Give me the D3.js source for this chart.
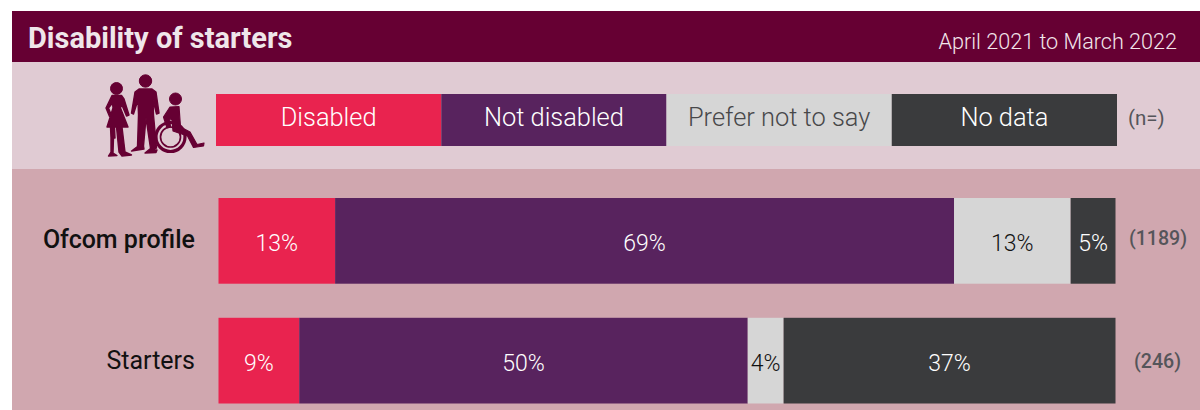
<!DOCTYPE html>
<html>
<head>
<meta charset="utf-8">
<script src="https://cdn.jsdelivr.net/npm/d3@7"></script>
<style>
html,body{margin:0;padding:0;background:#fff;}
svg{display:block;}
text{font-family:"Roboto","Noto Sans",sans-serif;}
</style>
</head>
<body>
<svg id="chart" width="1200" height="410"></svg>
<script>
// Survey breakdown: share of each group by disability status
const categories = ["Disabled", "Not disabled", "Prefer not to say", "No data"];
const groups = ["Ofcom profile", "Starters"];
const ofcomProfile = [13, 69, 13, 5];
const starters = [9, 50, 4, 37];
const respondents = [1189, 246];
const colours = ["#e9234f", "#58235e", "#d6d6d6", "#3a3b3d"];
const legendInk = ["#ffffff", "#ffffff", "#48484a", "#ffffff"];
const valueInk = ["#ffffff", "#ffffff", "#111111", "#ffffff"];
const title = "Disability of starters";
const period = "April 2021 to March 2022";

const svg = d3.select("#chart");

// Page bands
svg.append("rect").attr("x", 12).attr("y", 169).attr("width", 1188).attr("height", 241).attr("fill", "#d0a7af");
svg.append("rect").attr("x", 12).attr("y", 62).attr("width", 1188).attr("height", 107).attr("fill", "#e0cbd3");
svg.append("rect").attr("x", 12).attr("y", 11).attr("width", 1188).attr("height", 51).attr("fill", "#660033");

svg.append("text").attr("x", 28).attr("y", 48).attr("font-size", 29).attr("font-weight", 700)
  .attr("fill", "#efe6ea").text(title);
svg.append("text").attr("x", 1177).attr("y", 49).attr("text-anchor", "end").attr("font-size", 21.6)
  .attr("font-weight", 300).attr("fill", "#f3e6eb").text(period);

// Legend strip: four equal cells
const legendX = d3.scaleBand().domain(categories).range([216, 1117]);
const legend = svg.append("g");
legend.selectAll("rect").data(categories).join("rect")
  .attr("x", d => legendX(d))
  .attr("y", 94)
  .attr("width", legendX.bandwidth())
  .attr("height", 52)
  .attr("fill", (d, i) => colours[i]);
legend.selectAll("text").data(categories).join("text")
  .attr("x", d => legendX(d) + legendX.bandwidth() / 2)
  .attr("y", 126)
  .attr("text-anchor", "middle")
  .attr("font-size", 25.4)
  .attr("font-weight", 300)
  .attr("fill", (d, i) => legendInk[i])
  .text(d => d);
svg.append("text").attr("x", 1128).attr("y", 125).attr("font-size", 20.5).attr("fill", "#55555a").text("(n=)");

// Stacked bars
const rows = [ofcomProfile, starters];
const x = d3.scaleLinear().domain([0, 100]).range([218.5, 1115.5]);
const y = d3.scaleBand().domain(groups).range([198, 403.5]).paddingInner(0.2845);

const stack = d3.stack().keys(d3.range(categories.length)).value((row, k) => row[k]);
const layers = stack(rows);

const bars = svg.append("g");
layers.forEach((layer, k) => {
  const seg = bars.append("g");
  seg.selectAll("rect").data(layer).join("rect")
    .attr("x", d => x(d[0]))
    .attr("y", (d, i) => y(groups[i]))
    .attr("width", d => x(d[1]) - x(d[0]))
    .attr("height", y.bandwidth())
    .attr("fill", colours[k]);
  seg.selectAll("text").data(layer).join("text")
    .attr("x", d => (x(d[0]) + x(d[1])) / 2)
    .attr("y", (d, i) => y(groups[i]) + y.bandwidth() / 2 + 10)
    .attr("text-anchor", "middle")
    .attr("font-size", 23)
    .attr("font-weight", 300)
    .attr("fill", valueInk[k])
    .text(d => `${d[1] - d[0]}%`);
});

// Row names and sample sizes
svg.append("g").selectAll("text").data(groups).join("text")
  .attr("x", 195)
  .attr("y", (d, i) => y(d) + y.bandwidth() / 2 + (i === 0 ? 7.5 : 8.5))
  .attr("text-anchor", "end")
  .attr("font-size", 25)
  .attr("font-weight", (d, i) => i === 0 ? 500 : 400)
  .attr("fill", "#111111")
  .text(d => d);
svg.append("g").selectAll("text").data(respondents).join("text")
  .attr("x", (d, i) => i === 0 ? 1158 : 1157.5)
  .attr("y", (d, i) => y(groups[i]) + y.bandwidth() / 2 + (i === 0 ? 4 : 7.5))
  .attr("text-anchor", "middle")
  .attr("font-size", 19.6)
  .attr("font-weight", 500)
  .attr("fill", "#55555a")
  .text(d => `(${d})`);

// Pictogram: three figures, one using a wheelchair
const icon = svg.append("g").attr("fill", "#660033").attr("stroke", "#660033").attr("stroke-linejoin", "round");
// left figure
icon.append("circle").attr("cx", 116.5).attr("cy", 88.5).attr("r", 6);
icon.append("path").attr("stroke-width", 1.4).attr("d", "M112 95.5 L121.5 95.5 L124 99 L129 115 L126.5 116 L121.5 104 L120.5 108 L128 127 L122 127 L125 152 L131.5 155 L122 156 L119 152 L116.5 127 L114.5 127 L115 138 L113.5 138 L113 153 L117 155.5 L108.5 156 L111 152 L111 138 L110.5 127 L107 127 L113 108 L112.5 103 L108.5 108 L111.5 115.5 L109.5 116.5 L106 108 Z");
// middle figure
icon.append("circle").attr("cx", 145.5).attr("cy", 81).attr("r", 6.2);
icon.append("path").attr("stroke-width", 1.4).attr("d", "M139 89 L152 89 L156 92 L159 113 L156.5 114 L153 100 L153.5 115 L156.5 148 L150.5 149.5 L157 150 L156 152.5 L145 153 L150.5 148.5 L146 118 L143.5 146 L144 149 L131.5 151 L137.5 146.5 L138.5 115 L138 100 L133.5 114 L131.5 113 L135 92 Z");
// seated figure and wheel
icon.append("circle").attr("cx", 175.5).attr("cy", 99).attr("r", 6);
icon.append("path").attr("stroke-width", 1.2).attr("d", "M170 107 L179 106.5 L180.5 127 L190 132 L197 144.5 L204 143 L203.5 146 L193.5 147.5 L187.5 136 L173 131 L172 120 L169.5 118 L170.5 127 L167 128 L163.5 117 Z");
icon.append("circle").attr("cx", 170.5).attr("cy", 137).attr("r", 14.5).attr("fill", "none").attr("stroke-width", 3.2);
icon.append("circle").attr("cx", 170.5).attr("cy", 137).attr("r", 10).attr("fill", "none").attr("stroke-width", 1.7);
</script>
</body>
</html>
